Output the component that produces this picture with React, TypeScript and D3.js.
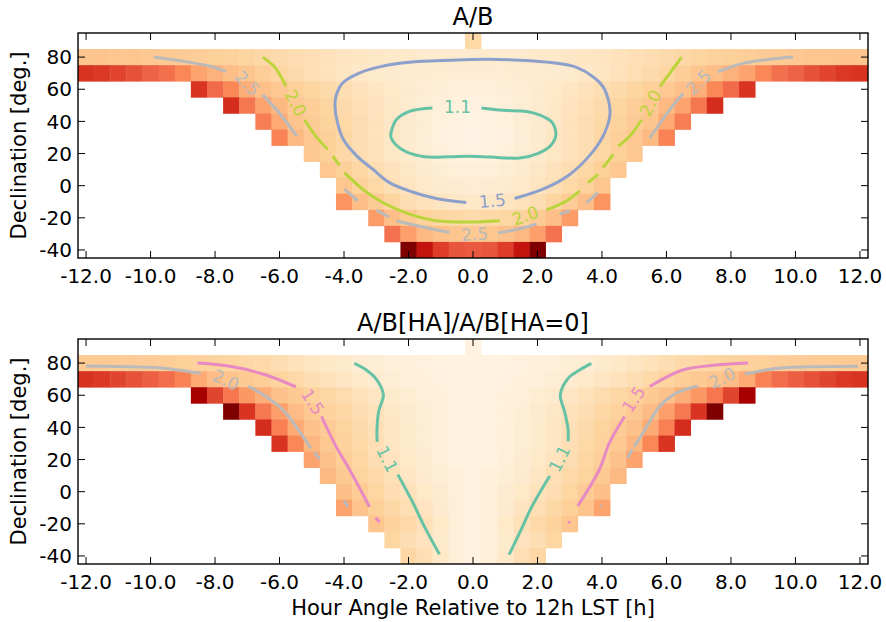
import React from "react";
import * as d3 from "d3";

// ---------- grid / axes ----------
const HA_TICKS = [-12, -10, -8, -6, -4, -2, 0, 2, 4, 6, 8, 10, 12];
const DEC_TICKS = [-40, -20, 0, 20, 40, 60, 80];
const DEC_ROWS = [90, 80, 70, 60, 50, 40, 30, 20, 10, 0, -10, -20, -30, -40];
const ROW_START_HA = [0, -12, -12, -8.5, -7.5, -6.5, -6, -5, -4.5, -4, -4, -3, -2.5, -2];

// ---------- panel 1 : A/B ----------
const RATIO_ROWS = [
  [2.1],
  [2.65,2.65,2.6,2.6,2.55,2.5,2.45,2.4,2.35,2.3,2.22,2.15,2.05,1.97,1.9,1.82,1.75,1.7,1.65,1.6,1.57,1.55,1.55,1.55,1.55,1.55,1.55,1.55,1.57,1.6,1.65,1.7,1.75,1.82,1.9,1.97,2.05,2.15,2.22,2.3,2.35,2.4,2.45,2.5,2.55,2.6,2.6,2.65,2.65],
  [4.7,4.65,4.5,4.35,4.15,3.95,3.6,3.2,3.0,2.8,2.6,2.4,2.2,2.05,1.92,1.8,1.7,1.62,1.55,1.5,1.47,1.45,1.43,1.42,1.42,1.42,1.43,1.45,1.47,1.5,1.55,1.62,1.7,1.8,1.92,2.05,2.2,2.4,2.6,2.8,3.0,3.2,3.6,3.95,4.15,4.35,4.5,4.65,4.7],
  [4.7,4.05,3.6,3.05,2.75,2.55,2.35,2.22,2.07,1.95,1.82,1.7,1.6,1.5,1.42,1.37,1.33,1.32,1.33,1.37,1.42,1.5,1.6,1.7,1.82,1.95,2.07,2.22,2.35,2.55,2.75,3.05,3.6,4.05,4.7],
  [4.8,3.85,3.2,2.9,2.55,2.4,2.22,2.05,1.9,1.77,1.62,1.5,1.4,1.32,1.27,1.25,1.27,1.32,1.4,1.5,1.62,1.77,1.9,2.05,2.22,2.4,2.55,2.9,3.2,3.85,4.8],
  [3.75,3.1,2.65,2.45,2.27,2.1,1.95,1.8,1.65,1.5,1.4,1.27,1.22,1.17,1.22,1.27,1.4,1.5,1.65,1.8,1.95,2.1,2.27,2.45,2.65,3.1,3.75],
  [3.65,2.9,2.55,2.35,2.17,1.95,1.8,1.67,1.5,1.37,1.25,1.2,1.15,1.2,1.25,1.37,1.5,1.67,1.8,1.95,2.17,2.35,2.55,2.9,3.65],
  [2.55,2.35,2.15,1.97,1.82,1.67,1.52,1.4,1.3,1.22,1.2,1.22,1.3,1.4,1.52,1.67,1.82,1.97,2.15,2.35,2.55],
  [2.55,2.35,2.15,1.95,1.8,1.65,1.5,1.4,1.35,1.32,1.35,1.4,1.5,1.65,1.8,1.95,2.15,2.35,2.55],
  [2.6,2.3,2.1,1.9,1.72,1.57,1.5,1.45,1.42,1.45,1.5,1.57,1.72,1.9,2.1,2.3,2.6],
  [3.4,2.8,2.45,2.22,1.95,1.82,1.72,1.65,1.62,1.65,1.72,1.82,1.95,2.22,2.45,2.8,3.4],
  [3.3,2.8,2.5,2.3,2.17,2.1,2.05,2.1,2.17,2.3,2.5,2.8,3.3],
  [3.9,3.25,2.9,2.7,2.6,2.55,2.6,2.7,2.9,3.25,3.9],
  [6.0,5.1,4.6,4.3,4.25,4.3,4.6,5.1,6.0],
];
const RATIO_RANGE = [1.0, 6.0];

// ---------- panel 2 : A/B[HA]/A/B[HA=0] ----------
const NORM_ROWS = [
  [1.0],
  [1.97,1.97,1.96,1.95,1.93,1.91,1.88,1.84,1.81,1.77,1.71,1.66,1.56,1.47,1.39,1.32,1.24,1.17,1.13,1.09,1.06,1.04,1.02,1.0,1.0,1.0,1.02,1.04,1.06,1.09,1.13,1.17,1.24,1.32,1.39,1.47,1.56,1.66,1.71,1.77,1.81,1.84,1.88,1.91,1.93,1.95,1.96,1.97,1.97],
  [3.63,3.59,3.48,3.36,3.25,3.1,2.84,2.43,2.24,2.09,1.98,1.9,1.79,1.68,1.56,1.45,1.38,1.28,1.21,1.15,1.09,1.06,1.04,1.02,1.0,1.02,1.04,1.06,1.09,1.15,1.21,1.28,1.38,1.45,1.56,1.68,1.79,1.9,1.98,2.09,2.24,2.43,2.84,3.1,3.25,3.36,3.48,3.59,3.63],
  [4.23,3.48,2.99,2.61,2.39,2.13,1.98,1.83,1.71,1.6,1.47,1.36,1.24,1.17,1.09,1.06,1.02,1.0,1.02,1.06,1.09,1.17,1.24,1.36,1.47,1.6,1.71,1.83,1.98,2.13,2.39,2.61,2.99,3.48,4.23],
  [4.6,3.63,2.95,2.54,2.24,2.01,1.83,1.71,1.56,1.45,1.34,1.23,1.13,1.06,1.02,1.0,1.02,1.06,1.13,1.23,1.34,1.45,1.56,1.71,1.83,2.01,2.24,2.54,2.95,3.63,4.6],
  [3.7,2.88,2.43,2.13,1.94,1.79,1.64,1.51,1.38,1.26,1.15,1.07,1.02,1.0,1.02,1.07,1.15,1.26,1.38,1.51,1.64,1.79,1.94,2.13,2.43,2.88,3.7],
  [3.63,2.8,2.31,2.01,1.83,1.68,1.53,1.38,1.26,1.15,1.06,1.02,1.0,1.02,1.06,1.15,1.26,1.38,1.53,1.68,1.83,2.01,2.31,2.8,3.63],
  [2.5,2.13,1.9,1.73,1.56,1.43,1.3,1.19,1.09,1.02,1.0,1.02,1.09,1.19,1.3,1.43,1.56,1.73,1.9,2.13,2.5],
  [2.28,1.98,1.79,1.66,1.51,1.36,1.23,1.13,1.06,1.0,1.06,1.13,1.23,1.36,1.51,1.66,1.79,1.98,2.28],
  [2.16,1.94,1.75,1.58,1.45,1.3,1.19,1.09,1.0,1.09,1.19,1.3,1.45,1.58,1.75,1.94,2.16],
  [2.5,2.09,1.86,1.69,1.54,1.41,1.23,1.09,1.0,1.09,1.23,1.41,1.54,1.69,1.86,2.09,2.5],
  [2.05,1.83,1.66,1.49,1.3,1.11,1.0,1.11,1.3,1.49,1.66,1.83,2.05],
  [1.75,1.56,1.43,1.26,1.09,1.0,1.09,1.26,1.43,1.56,1.75],
  [1.71,1.53,1.3,1.11,1.0,1.11,1.3,1.53,1.71],
];
const NORM_RANGE = [0.85, 4.6];

// ---------- contour lines (HA, Dec) ----------
const TOP_C11 = [
  [[0.26,48.3],[0.93,46.9],[1.66,46.2],[2.1,43.8],[2.45,39.5],[2.57,33],[2.55,29.5],[2.4,24.8],[2.0,20],[1.45,17.2],[0.55,17.8],[-0.1,18.3],[-0.73,18],[-1.5,18],[-2.07,21],[-2.4,25.6],[-2.55,30.7],[-2.5,36],[-2.38,41],[-1.97,46.2],[-1.26,48.3]],
];
const TOP_C15 = [
  [[1.29,-8],[2.28,-1.2],[3.0,7.0],[3.6,18.4],[4.03,30.7],[4.24,43.1],[4.22,51.4],[4.03,61.6],[3.72,67.8],[3.21,73.6],[2.48,76.5],[1.45,78.1],[0.41,78.6],[-0.73,78],[-1.97,76.8],[-2.8,74.4],[-3.55,69.9],[-4.05,63.7],[-4.25,55.5],[-4.28,49.3],[-4.2,39],[-4.02,28.7],[-3.6,18.4],[-3.1,10.1],[-2.59,1.9],[-1.9,-3.8],[-1.14,-8],[-0.21,-10.5]],
];
const TOP_C20 = [
  [[-6.52,80],[-6.16,74],[-5.9,65.8],[-5.8,61.8]],
  [[-5.23,41],[-4.87,30.7],[-4.5,22.5]],
  [[-4.35,18.4],[-4.14,12.6]],
  [[-3.99,8.1],[-3.42,-2.2],[-2.8,-10.5],[-1.97,-17.7],[-1.14,-21.8],[-0.1,-22.6],[0.83,-21.8]],
  [[2.28,-15.1],[2.9,-9.5],[3.31,-3.3]],
  [[3.57,1.9],[3.88,7.0]],
  [[4.03,11.2],[4.35,19.4]],
  [[4.5,24.5],[4.87,31],[5.23,41]],
  [[5.8,61.8],[6.1,69.9],[6.47,80]],
];
const TOP_C25 = [
  [[-9.89,80],[-8.9,77.1],[-8.08,74],[-7.66,70.9]],
  [[-6.52,56.5],[-6.01,45.2],[-5.46,30.7]],
  [[-3.99,-2.2],[-3.57,-9.5]],
  [[-3.0,-15.2],[-2.6,-19.5]],
  [[-2.38,-21.8],[-1.6,-25.5],[-0.73,-29]],
  [[0.77,-29.5],[1.4,-27],[1.97,-23.9]],
  [[2.69,-17.7],[3.0,-15.7]],
  [[3.52,-10.5],[3.88,-4.3]],
  [[5.48,29.7],[6.1,47.2],[6.52,57.5]],
  [[7.6,70.9],[8.37,76.1],[9.2,78.6],[9.93,80]],
];
const TOP_LABELS = [
  { text: "1.1", ha: -0.48, dec: 49.0, rot: 0, level: 0 },
  { text: "1.5", ha: 0.6, dec: -9.3, rot: -5, level: 1 },
  { text: "2.0", ha: -5.5, dec: 51.4, rot: 62, level: 2 },
  { text: "2.0", ha: 5.5, dec: 51.4, rot: -62, level: 2 },
  { text: "2.0", ha: 1.62, dec: -18.6, rot: -20, level: 2 },
  { text: "2.5", ha: -6.99, dec: 63.7, rot: 45, level: 3 },
  { text: "2.5", ha: 6.99, dec: 64.5, rot: -45, level: 3 },
  { text: "2.5", ha: 0.05, dec: -30.1, rot: -3, level: 3 },
];
const TOP_COLORS = ["#66c2a5", "#8da0cb", "#bcd43b", "#bababa"];

const BOT_C11 = [
  [[-3.68,79.8],[-3.31,75.7],[-3.0,70],[-2.78,60.2],[-2.92,50.5],[-2.98,37.5],[-2.97,31]],
  [[-2.33,10.6],[-1.86,-7],[-1.53,-20.8],[-1.04,-39]],
  [[3.67,79.8],[3.31,75.7],[2.95,70.5],[2.71,60.2],[2.84,49.9],[2.95,38.6],[2.95,31.3]],
  [[2.38,9.7],[1.81,-9.9],[1.55,-21.2],[1.12,-39.2]],
];
const BOT_C15 = [
  [[-8.54,80],[-7.45,77.7],[-6.42,72.6],[-5.49,65.2]],
  [[-4.7,46.8],[-4.25,28.2],[-3.83,13.8],[-3.21,-9.4]],
  [[-3.02,-16.2],[-2.9,-19]],
  [[8.53,80],[7.54,78.8],[6.5,75.7],[5.48,65.4]],
  [[4.7,46.8],[4.23,30.3],[3.92,13.8],[3.25,-8.9]],
  [[2.96,-18.4],[3.0,-19.6]],
];
const BOT_C20 = [
  [[-12,78.2],[-10.56,77.7],[-9.52,76.7],[-8.44,73.6]],
  [[-6.97,65.6],[-6.42,59.2],[-5.85,49.9],[-5.23,33],[-5.02,27]],
  [[-4.92,24.6],[-4.76,20.2]],
  [[-4.0,-5.5],[-3.88,-9.4]],
  [[11.94,78.1],[10.44,77.7],[9.4,76.7],[8.43,73.2]],
  [[6.98,65.8],[6.3,61.3],[5.79,53],[5.27,36.5],[5.0,28]],
  [[4.94,26.2],[4.8,21.1]],
  [[3.96,-8.4],[3.99,-9.3]],
];
const BOT_LABELS = [
  { text: "1.1", ha: -2.66, dec: 20.3, rot: 63, level: 0 },
  { text: "1.1", ha: 2.68, dec: 20.5, rot: -63, level: 0 },
  { text: "1.5", ha: -4.97, dec: 56.0, rot: 57, level: 1 },
  { text: "1.5", ha: 4.98, dec: 57.5, rot: -57, level: 1 },
  { text: "2.0", ha: -7.66, dec: 69.5, rot: 25, level: 2 },
  { text: "2.0", ha: 7.73, dec: 70.8, rot: -25, level: 2 },
];
const BOT_COLORS = ["#66c2a5", "#e78ac3", "#bababa"];

// ---------- colormap (OrRd) ----------
const ORRD = ["#fff7ec", "#fee8c8", "#fdd49e", "#fdbb84", "#fc8d59", "#ef6548", "#d7301f", "#b30000", "#7f0000"];
const cmap = d3
  .scaleLinear<string>()
  .domain(ORRD.map((_, i) => i / (ORRD.length - 1)))
  .range(ORRD)
  .interpolate(d3.interpolateRgb)
  .clamp(true);

const FONT = "DejaVu Sans, Liberation Sans, sans-serif";
const LEFT = 78;
const RIGHT = 868;
const PH = 225;

const xs = d3.scaleLinear().domain([-12.25, 12.25]).range([LEFT, RIGHT]);

type Label = { text: string; ha: number; dec: number; rot: number; level: number };

function Panel(props: {
  top: number;
  title: string;
  rows: number[][];
  range: number[];
  contours: number[][][][];
  colors: string[];
  labels: Label[];
}) {
  const { top, title, rows, range, contours, colors, labels } = props;
  const ys = d3.scaleLinear().domain([-45, 95]).range([top + PH, top]);
  const line = d3
    .line<number[]>()
    .x((d) => xs(d[0]))
    .y((d) => ys(d[1]))
    .curve(d3.curveCatmullRom.alpha(0.5));
  const bottom = top + PH;
  const clipId = `clip${top}`;
  return (
    <g>
      <defs>
        <clipPath id={clipId}>
          <rect x={LEFT} y={top} width={RIGHT - LEFT} height={PH} />
        </clipPath>
      </defs>
      <g clipPath={`url(#${clipId})`}>
        {rows.map((vals, r) =>
          vals.map((v, i) => {
            const ha = ROW_START_HA[r] + 0.5 * i;
            const dec = DEC_ROWS[r];
            const x0 = xs(ha - 0.25);
            const x1 = xs(ha + 0.25);
            const y0 = ys(dec + 5);
            const y1 = ys(dec - 5);
            const t = (v - range[0]) / (range[1] - range[0]);
            return (
              <rect
                key={`${r}-${i}`}
                x={x0}
                y={y0}
                width={x1 - x0 + 0.4}
                height={y1 - y0 + 0.4}
                fill={cmap(t)}
              />
            );
          })
        )}
        {contours.map((segs, li) =>
          segs.map((seg, si) => (
            <path
              key={`c${li}-${si}`}
              d={line(seg) || ""}
              fill="none"
              stroke={colors[li]}
              strokeWidth={3}
              strokeLinecap="butt"
              strokeLinejoin="round"
            />
          ))
        )}
        {labels.map((lb, i) => (
          <text
            key={`l${i}`}
            transform={`translate(${xs(lb.ha)},${ys(lb.dec)}) rotate(${lb.rot})`}
            textAnchor="middle"
            dy="0.36em"
            fontFamily={FONT}
            fontSize={17}
            fill={colors[lb.level]}
          >
            {lb.text}
          </text>
        ))}
      </g>
      <rect x={LEFT} y={top} width={RIGHT - LEFT} height={PH} fill="none" stroke="#000" strokeWidth={1.4} />
      {HA_TICKS.map((h) => (
        <g key={`xt${h}`}>
          <line x1={xs(h)} x2={xs(h)} y1={bottom} y2={bottom - 7} stroke="#000" strokeWidth={1} />
          <line x1={xs(h)} x2={xs(h)} y1={top} y2={top + 7} stroke="#000" strokeWidth={1} />
          <text x={xs(h)} y={bottom + 25} textAnchor="middle" fontFamily={FONT} fontSize={20} fill="#000">
            {h.toFixed(1)}
          </text>
        </g>
      ))}
      {DEC_TICKS.map((d) => (
        <g key={`yt${d}`}>
          <line x1={LEFT} x2={LEFT + 7} y1={ys(d)} y2={ys(d)} stroke="#000" strokeWidth={1} />
          <line x1={RIGHT} x2={RIGHT - 7} y1={ys(d)} y2={ys(d)} stroke="#000" strokeWidth={1} />
          <text x={LEFT - 6} y={ys(d)} dy="0.36em" textAnchor="end" fontFamily={FONT} fontSize={20} fill="#000">
            {d}
          </text>
        </g>
      ))}
      <text x={(LEFT + RIGHT) / 2} y={top - 8} textAnchor="middle" fontFamily={FONT} fontSize={24} fill="#000">
        {title}
      </text>
      <text
        transform={`translate(26,${top + PH / 2}) rotate(-90)`}
        textAnchor="middle"
        fontFamily={FONT}
        fontSize={21}
        fill="#000"
      >
        Declination [deg.]
      </text>
    </g>
  );
}

export default function App() {
  return (
    <svg
      width={886}
      height={622}
      style={{ position: "absolute", left: 0, top: 0, background: "#fff" }}
      xmlns="http://www.w3.org/2000/svg"
    >
      <rect x={0} y={0} width={886} height={622} fill="#fff" />
      <Panel
        top={33}
        title="A/B"
        rows={RATIO_ROWS}
        range={RATIO_RANGE}
        contours={[TOP_C11, TOP_C15, TOP_C20, TOP_C25]}
        colors={TOP_COLORS}
        labels={TOP_LABELS}
      />
      <Panel
        top={339}
        title="A/B[HA]/A/B[HA=0]"
        rows={NORM_ROWS}
        range={NORM_RANGE}
        contours={[BOT_C11, BOT_C15, BOT_C20]}
        colors={BOT_COLORS}
        labels={BOT_LABELS}
      />
      <text x={(LEFT + RIGHT) / 2} y={615} textAnchor="middle" fontFamily={FONT} fontSize={21} fill="#000">
        Hour Angle Relative to 12h LST [h]
      </text>
    </svg>
  );
}
